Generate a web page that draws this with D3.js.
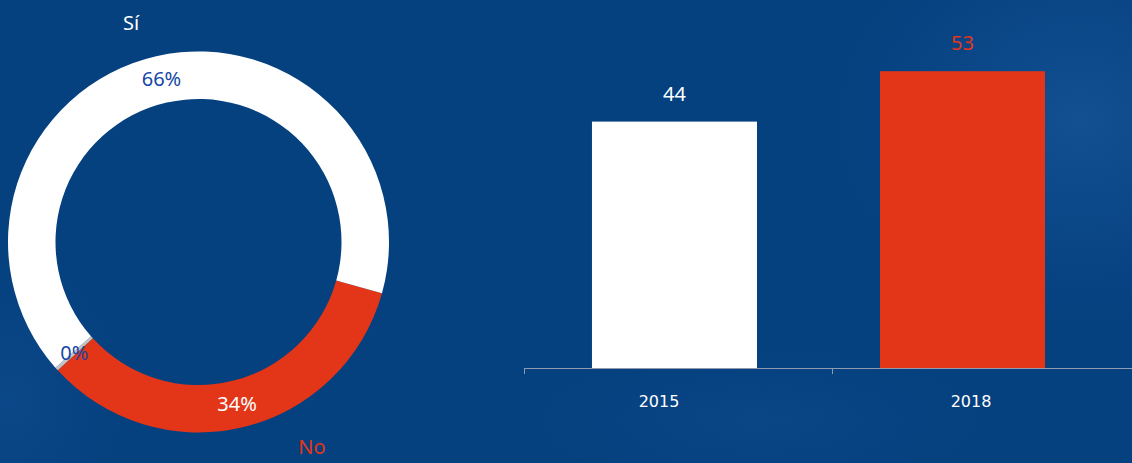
<!DOCTYPE html>
<html>
<head>
<meta charset="utf-8">
<script src="https://cdn.jsdelivr.net/npm/d3@7"></script>
<style>
  body { margin: 0; background: #05407f; overflow: hidden; }
  svg { display: block; }
</style>
</head>
<body>
<div id="chart"></div>
<script>
// donut data (order = clockwise from the red slice)
var pieLabels = ["No", "NS/NC", "Sí"];
var pieValues = [33.9, 0.3, 65.8];
var pieText = ["34%", "0%", "66%"];

// bar data
var years = ["2015", "2018"];
var barValues = [44, 53];

var svgWidth = 1132;
var svgHeight = 463;

var svg = d3.select("#chart")
            .append("svg")
            .attr("width", svgWidth)
            .attr("height", svgHeight);

// background with a bit of texture
var defs = svg.append("defs");
var g1 = defs.append("radialGradient").attr("id", "glowR")
  .attr("cx", "0.5").attr("cy", "0.5").attr("r", "0.5");
g1.append("stop").attr("offset", "0%").attr("stop-color", "#1a5a9e").attr("stop-opacity", 0.6);
g1.append("stop").attr("offset", "100%").attr("stop-color", "#1a5a9e").attr("stop-opacity", 0);

svg.append("rect").attr("width", svgWidth).attr("height", svgHeight).attr("fill", "#05407f");
svg.append("ellipse").attr("cx", 1080).attr("cy", 120).attr("rx", 240).attr("ry", 200).attr("fill", "url(#glowR)");
svg.append("ellipse").attr("cx", 10).attr("cy", 400).attr("rx", 110).attr("ry", 140).attr("fill", "url(#glowR)").attr("opacity", 0.5);
svg.append("ellipse").attr("cx", 760).attr("cy", 420).attr("rx", 220).attr("ry", 70).attr("fill", "url(#glowR)").attr("opacity", 0.4);

//---------------- donut ----------------
var cx = 198.5, cy = 242;
var outerR = 190.5, innerR = 143;
var pieColors = ["#e33619", "#c4c4c4", "#ffffff"];
var pctColors = ["#ffffff", "#1747a6", "#1747a6"];

var pie = d3.pie()
            .sort(null)
            .value(d => d)
            .startAngle(105.6 * Math.PI / 180)
            .endAngle(105.6 * Math.PI / 180 + 2 * Math.PI);

var arc = d3.arc().innerRadius(innerR).outerRadius(outerR);

var donut = svg.append("g").attr("transform", "translate(" + cx + "," + cy + ")");
var arcs = pie(pieValues);

donut.selectAll("path")
     .data(arcs)
     .enter()
     .append("path")
     .attr("d", arc)
     .attr("fill", (d, i) => pieColors[i]);

donut.selectAll("text.pct")
     .data(arcs)
     .enter()
     .append("text")
     .attr("class", "pct")
     .attr("transform", d => "translate(" + arc.centroid(d) + ")")
     .attr("text-anchor", "middle")
     .attr("dy", "0.35em")
     .style("font-family", "'Noto Sans', 'Open Sans', sans-serif")
     .style("font-size", "20px")
     .style("fill", (d, i) => pctColors[i])
     .text((d, i) => pieText[i]);

// outside category labels (Sí, No)
var outerLabelPos = {"Sí": [-67.5, -212], "No": [113.5, 212]};
var outerLabelColor = {"Sí": "#ffffff", "No": "#e33619"};
donut.selectAll("text.cat")
     .data(pieLabels.filter(d => outerLabelPos[d]))
     .enter()
     .append("text")
     .attr("class", "cat")
     .attr("x", d => outerLabelPos[d][0])
     .attr("y", d => outerLabelPos[d][1])
     .attr("text-anchor", "middle")
     .style("font-family", "'Noto Sans', 'Open Sans', sans-serif")
     .style("font-size", "20px")
     .style("fill", d => outerLabelColor[d])
     .text(d => d);

//---------------- bars ----------------
var baseY = 368;
var y = d3.scaleLinear().domain([0, 60]).range([baseY, baseY - 336]);

var xBar = d3.scaleBand()
             .domain(years)
             .range([524, 1113])
             .paddingInner(0.427)
             .paddingOuter(0.236);

var xTick = d3.scaleBand().domain(years).range([524, 1140]);
var xLabel = d3.scalePoint().domain(years).range([659, 971]);

var barColors = ["#ffffff", "#e33619"];
var valColors = ["#ffffff", "#e33619"];

svg.selectAll("rect.bar")
   .data(barValues)
   .enter()
   .append("rect")
   .attr("class", "bar")
   .attr("x", (d, i) => xBar(years[i]))
   .attr("y", d => y(d))
   .attr("width", xBar.bandwidth())
   .attr("height", d => baseY - y(d))
   .attr("fill", (d, i) => barColors[i]);

svg.selectAll("text.val")
   .data(barValues)
   .enter()
   .append("text")
   .attr("class", "val")
   .attr("x", (d, i) => xBar(years[i]) + xBar.bandwidth() / 2)
   .attr("y", d => y(d) - 21)
   .attr("text-anchor", "middle")
   .style("font-family", "'Noto Sans', 'Open Sans', sans-serif")
   .style("font-size", "20px")
   .style("fill", (d, i) => valColors[i])
   .text(d => d);

// x axis
var axis = svg.append("g");
axis.append("line")
    .attr("x1", 524).attr("x2", 1140)
    .attr("y1", baseY + 0.5).attr("y2", baseY + 0.5)
    .attr("stroke", "#8f9bb0").attr("stroke-width", 1);

axis.selectAll("line.tick")
    .data(years)
    .enter()
    .append("line")
    .attr("class", "tick")
    .attr("x1", d => xTick(d) + 0.5).attr("x2", d => xTick(d) + 0.5)
    .attr("y1", baseY).attr("y2", baseY + 6)
    .attr("stroke", "#8f9bb0");

axis.selectAll("text")
    .data(years)
    .enter()
    .append("text")
    .attr("x", d => xLabel(d))
    .attr("y", 407)
    .attr("text-anchor", "middle")
    .style("font-family", "'DejaVu Sans', sans-serif")
    .style("font-size", "16px")
    .style("fill", "#ffffff")
    .text(d => d);
</script>
</body>
</html>
